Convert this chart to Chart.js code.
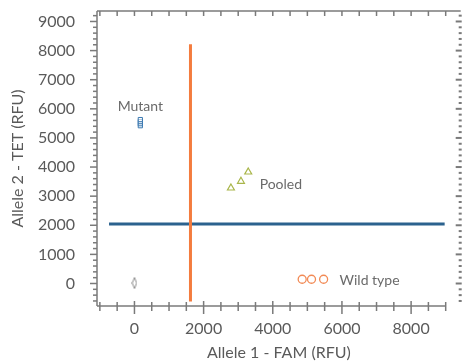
<!DOCTYPE html>
<html><head><meta charset="utf-8">
<script src="https://cdn.jsdelivr.net/npm/chart.js@4.4.1/dist/chart.umd.min.js"></script>
<style>html,body{margin:0;padding:0;background:#fff}#wrap{width:466px;height:362px}</style>
</head><body><div id="wrap"><canvas id="c" width="466" height="362"></canvas></div>
<script>
// ---- data ----
const mutantX = [170, 170, 170, 170];
const mutantY = [5420, 5490, 5560, 5630];
const pooledX = [2790, 3080, 3290];
const pooledY = [3280, 3510, 3830];
const wildX = [4850, 5120, 5470];
const wildY = [145, 145, 145];
const ntcX = [0];
const ntcY = [15];
const cutoffX = 1620;           // vertical threshold (FAM)
const cutoffXRange = [-620, 8220];
const cutoffY = 2040;           // horizontal threshold (TET)
const cutoffYRange = [-735, 8970];
const xTickLabels = [0, 2000, 4000, 6000, 8000];
const yTickLabels = [0, 1000, 2000, 3000, 4000, 5000, 6000, 7000, 8000, 9000];
const groupLabels = ['Mutant', 'Pooled', 'Wild type'];
const groupLabelX = [170, 3620, 5930];
const groupLabelY = [6090, 3400, 110];

const pts = (xs, ys) => xs.map((x, i) => ({x, y: ys[i]}));

// narrow diamond marker
const dia = document.createElement('canvas');
dia.width = 6; dia.height = 12;
(() => { const g = dia.getContext('2d'); g.strokeStyle = '#8a8a8a'; g.lineWidth = 1;
  g.beginPath(); g.moveTo(3, 0.5); g.lineTo(5.2, 6); g.lineTo(3, 11.5); g.lineTo(0.8, 6); g.closePath(); g.stroke(); })();

const AX = '#7a7a7a';
const frame = {
  id: 'frame',
  afterDraw(chart) {
    const ctx = chart.ctx, xs = chart.scales.x, ys = chart.scales.y, a = chart.chartArea;
    ctx.save();
    ctx.strokeStyle = AX; ctx.lineWidth = 1.5;
    const by = a.bottom;
    ctx.beginPath(); ctx.moveTo(a.left, a.top); ctx.lineTo(a.left, a.bottom); ctx.stroke();
    ctx.beginPath(); ctx.moveTo(a.left, a.top); ctx.lineTo(a.right, a.top); ctx.stroke();
    ctx.beginPath(); ctx.moveTo(a.left, by); ctx.lineTo(xs.getPixelForValue(9000), by); ctx.stroke();
    for (let v = -1000; v <= 9000; v += 500) {
      const p = xs.getPixelForValue(v);
      const major = v % 2000 === 0;
      ctx.beginPath(); ctx.moveTo(p, a.top); ctx.lineTo(p, a.top + 5); ctx.stroke();
      ctx.beginPath(); ctx.moveTo(p, by - (major ? 5 : 4)); ctx.lineTo(p, by + (major ? 8 : 5)); ctx.stroke();
    }
    for (let v = -600; v <= 9200; v += 200) {
      const p = ys.getPixelForValue(v);
      const major = v % 1000 === 0;
      ctx.beginPath(); ctx.moveTo(a.left, p); ctx.lineTo(a.left - (major ? 7 : 4), p); ctx.stroke();
      ctx.lineWidth = 2;
      ctx.beginPath(); ctx.moveTo(a.right - (major ? 5 : 2), p); ctx.lineTo(a.right + 1, p); ctx.stroke();
      ctx.lineWidth = 1.5;
    }
    ctx.fillStyle = '#6a6a6a'; ctx.font = '14px Lato'; ctx.textBaseline = 'middle';
    groupLabels.forEach((t, i) => {
      ctx.textAlign = i === 0 ? 'center' : 'left';
      ctx.fillText(t, xs.getPixelForValue(groupLabelX[i]), ys.getPixelForValue(groupLabelY[i]));
    });
    ctx.restore();
  }
};

new Chart(document.getElementById('c'), {
  type: 'scatter',
  data: {
    datasets: [
      { type: 'line', data: [{x: cutoffX, y: cutoffXRange[0]}, {x: cutoffX, y: cutoffXRange[1]}],
        borderColor: '#f47c3e', borderWidth: 3, pointRadius: 0, order: 0 },
      { type: 'line', data: [{x: cutoffYRange[0], y: cutoffY}, {x: cutoffYRange[1], y: cutoffY}],
        borderColor: '#2b628e', borderWidth: 3, pointRadius: 0, order: 1 },
      { data: pts(mutantX, mutantY), pointStyle: 'rect', pointRadius: 3, borderColor: '#3a78b0',
        backgroundColor: 'rgba(255,255,255,0.6)', borderWidth: 1, order: 2 },
      { data: pts(pooledX, pooledY), pointStyle: 'triangle', pointRadius: 4, borderColor: '#a9b64a',
        backgroundColor: 'transparent', borderWidth: 1.2, order: 2 },
      { data: pts(wildX, wildY), pointStyle: 'circle', pointRadius: 4, borderColor: '#f28a55',
        backgroundColor: 'transparent', borderWidth: 1.3, order: 2 },
      { data: pts(ntcX, ntcY), pointStyle: dia, order: 2 }
    ]
  },
  options: {
    responsive: false, animation: false, events: [],
    layout: { padding: { top: 11, right: 3, left: 0, bottom: 0 } },
    plugins: { legend: { display: false }, tooltip: { enabled: false } },
    scales: {
      x: {
        type: 'linear', min: -1083, max: 9434,
        grid: { display: false }, border: { display: false },
        afterBuildTicks: s => { s.ticks = xTickLabels.map(v => ({value: v})); },
        afterFit: s => { s.height = 56; s.paddingLeft = 0; s.paddingRight = 0; },
        ticks: { color: '#5a5a5a', font: { family: 'Lato', size: 16 }, padding: 5, maxRotation: 0,
          callback: v => String(v) },
        title: { display: true, text: 'Allele 1 - FAM (RFU)', color: '#5a5a5a',
          font: { family: 'Lato', size: 16 }, padding: { top: 0, bottom: 0 } }
      },
      y: {
        type: 'linear', min: -773, max: 9360,
        grid: { display: false }, border: { display: false },
        afterBuildTicks: s => { s.ticks = yTickLabels.map(v => ({value: v})); },
        afterFit: s => { s.width = 97; s.paddingTop = 0; s.paddingBottom = 0; },
        ticks: { color: '#5a5a5a', font: { family: 'Lato', size: 16 }, padding: 14,
          callback: v => String(v) },
        title: { display: true, text: 'Allele 2 - TET (RFU)', color: '#5a5a5a',
          font: { family: 'Lato', size: 16 }, padding: { top: 8, bottom: 0 } }
      }
    }
  },
  plugins: [frame]
});
</script></body></html>
